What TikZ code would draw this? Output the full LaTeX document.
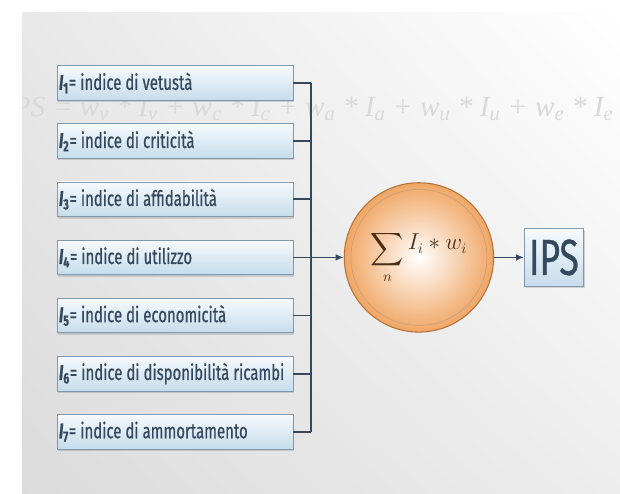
\documentclass[tikz,border=0pt]{standalone}
\usepackage{amsmath}
\usepackage{fontspec}
\newfontfamily\boxfont[FakeStretch=0.7, FakeBold=0.6]{Fira Sans}
\newfontfamily\markfont{Liberation Serif}
\usetikzlibrary{arrows.meta, positioning, shadows, shadings}
\definecolor{slate}{HTML}{34495E}
\definecolor{boxtop}{HTML}{F6FAFD}
\definecolor{boxbot}{HTML}{C6DCEB}
\definecolor{boxline}{HTML}{7F9AB0}
\definecolor{ringcol}{HTML}{B3743D}
\definecolor{orangefill}{HTML}{F0A664}
\definecolor{sumtext}{HTML}{4A2E18}
\newcommand{\idx}[1]{\textit{\textbf{I}}\textsubscript{\textbf{#1}}=}
\newcommand{\wm}[2]{#1\textsubscript{#2}}
\tikzset{
  idxbox/.style={rectangle, draw=boxline, line width=0.6pt,
                 top color=boxtop, bottom color=boxbot,
                 minimum height=26pt, text width=174pt, inner xsep=1.5pt,
                 align=left, text=slate,
                 font=\boxfont\fontsize{16}{18}\selectfont,
                 execute at begin node={\hyphenpenalty=10000\relax\spaceskip=3pt plus 1pt\relax},
                 drop shadow={shadow xshift=1pt, shadow yshift=-1.5pt, opacity=0.3}},
  ipsbox/.style={idxbox, text width=, align=center, inner sep=0pt,
                 minimum width=44pt, minimum height=43pt,
                 font=\boxfont\fontsize{38}{40}\selectfont},
  sumnode/.style={circle, draw=ringcol, line width=0.8pt, minimum size=112pt,
                  inner color=white, outer color=orangefill, text=sumtext,
                  font=\fontsize{16}{20}\selectfont},
  wire/.style={draw=slate, line width=1.3pt},
  arr/.style={-{Latex[length=6pt,width=5pt]}, draw=slate, line width=1.3pt},
}

\begin{document}
\begin{tikzpicture}[node distance=17pt]
  \useasboundingbox (0,0) rectangle (465pt,-369.75pt);

  %% === Background with faint formula ===
  \shade[upper left=black!9, upper right=white, lower left=black!14, lower right=black!7]
    (16.5pt,-9pt) rectangle (465pt,-369.75pt);
  \begin{scope}
    \clip (16.5pt,-9pt) rectangle (465pt,-369.75pt);
    \node[anchor=base west, text=black!15, font=\markfont\itshape\fontsize{22}{24}\selectfont,
          inner sep=0pt] (wmark) at (2pt,-87pt)
      {IPS = \wm{w}{v} * \wm{I}{v} + \wm{w}{c} * \wm{I}{c} + \wm{w}{a} * \wm{I}{a}
       + \wm{w}{u} * \wm{I}{u} + \wm{w}{e} * \wm{I}{e}};
  \end{scope}

  %% === Index boxes ===
  \node[idxbox] (b1) at (131.25pt,-62.25pt) {\idx{1} indice di vetustà};
  \node[idxbox, below=of b1] (b2) {\idx{2} indice di criticità};
  \node[idxbox, below=of b2] (b3) {\idx{3} indice di affidabilità};
  \node[idxbox, below=of b3] (b4) {\idx{4} indice di utilizzo};
  \node[idxbox, below=of b4] (b5) {\idx{5} indice di economicità};
  \node[idxbox, below=of b5] (b6) {\idx{6} indice di disponibilità ricambi};
  \node[idxbox, below=of b6] (b7) {\idx{7} indice di ammortamento};

  %% === Weighted sum and result ===
  \node[sumnode, right=37.75pt of b4] (sum)
    {$\displaystyle\sum_{n} \raisebox{4pt}{$I_i * w_i$}$};
  \draw[ringcol!70, line width=0.5pt] (sum.center) circle (51pt);
  \node[ipsbox, right=22.5pt of sum] (ips) {IPS};

  %% === Bus ===
  \coordinate (bus) at (233.25pt,-191.25pt);
  \draw[wire] (b1.east) -- (b1.east -| bus);
  \draw[wire] (b2.east) -- (b2.east -| bus);
  \draw[wire] (b3.east) -- (b3.east -| bus);
  \draw[wire] (b5.east) -- (b5.east -| bus);
  \draw[wire] (b6.east) -- (b6.east -| bus);
  \draw[wire] (b7.east) -- (b7.east -| bus);
  \draw[wire] (b1.east -| bus) -- (b7.east -| bus);

  %% === Arrows ===
  \draw[arr] (b4.east) -- (sum.west);
  \draw[arr] (sum.east) -- (ips.west);
\end{tikzpicture}
\end{document}
